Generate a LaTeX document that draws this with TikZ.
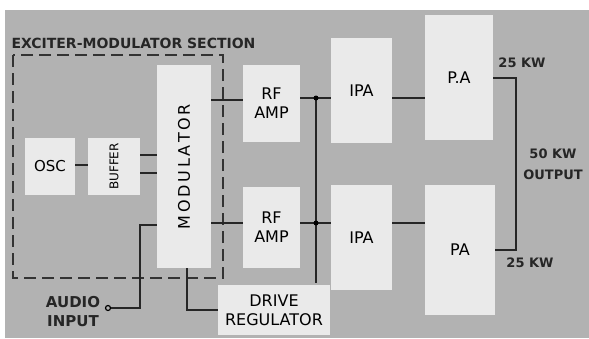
\documentclass[tikz,border=0pt]{standalone}
\usepackage{fontspec}
\setmainfont{DejaVu Sans}
\usetikzlibrary{positioning, calc}

\definecolor{bggray}{HTML}{B2B2B2}
\definecolor{boxgray}{HTML}{EAEAEA}

\begin{document}
\begin{tikzpicture}[
    x=1pt, y=-1pt,
    blk/.style={rectangle, fill=boxgray, inner sep=0pt, align=center, font=\fontsize{16}{19}\selectfont},
    wire/.style={line width=1.8pt, black!85},
    lbl/.style={font=\bfseries\fontsize{13}{21}\selectfont, align=center, black!85}
]
    \useasboundingbox (0,0) rectangle (589,338);
    \fill[white] (0,0) rectangle (589,338);
    \fill[bggray] (5,10) rectangle (589,338);

    % exciter-modulator section
    \node[lbl, anchor=west, font=\bfseries\fontsize{14}{16}\selectfont] (sect) at (8,43) {EXCITER-MODULATOR SECTION};
    \draw[line width=1.8pt, black!80, dash pattern=on 12pt off 6pt] (13,55) rectangle (223,278);

    \node[blk, minimum width=50, minimum height=57, font=\fontsize{15}{19}\selectfont] (osc) at (50,166.5) {OSC};
    \node[blk, minimum width=52, minimum height=57] (buf) at (114,166.5) {\rotatebox{90}{\fontsize{12}{12}\selectfont BUFFER}};
    \node[blk, minimum width=54, minimum height=203] (mod) at (184,166.5) {\rotatebox{90}{\fontsize{16}{18}\selectfont M\,O\,D\,U\,L\,A\,T\,O\,R}};
    \node[blk, minimum width=112, minimum height=50] (drv) at (274,310) {DRIVE\\REGULATOR};

    % RF chain
    \node[blk, minimum width=57, minimum height=77] (rf1) at (271.5,103.5) {RF\\AMP};
    \node[blk, minimum width=57, minimum height=81] (rf2) at (271.5,227.5) {RF\\AMP};
    \node[blk, minimum width=61, minimum height=105] (ipa1) at (361.5,90.5) {IPA};
    \node[blk, minimum width=61, minimum height=105] (ipa2) at (361.5,237.5) {IPA};
    \node[blk, minimum width=68, minimum height=125] (pa1) at (459,77.5) {P.A};
    \node[blk, minimum width=70, minimum height=130] (pa2) at (460,250) {PA};

    % labels
    \node[lbl] (kw1) at (522,63) {25 KW};
    \node[lbl] (kw2) at (530,263) {25 KW};
    \node[lbl] (out) at (553,164) {50 KW\\OUTPUT};
    \node[lbl, font=\bfseries\fontsize{15}{19}\selectfont] (aud) at (73,312) {AUDIO\\INPUT};
    \node[circle, draw, line width=1.2pt, inner sep=0pt, minimum size=5pt] (jack) at (108,308) {};

    % connections
    \draw[wire] (osc.east |- 0,165) -- (buf.west |- 0,165);
    \draw[wire] (buf.east |- 0,155) -- (mod.west |- 0,155);
    \draw[wire] (buf.east |- 0,173) -- (mod.west |- 0,173);
    \draw[wire] (mod.east |- 0,100) -- (rf1.west |- 0,100);
    \draw[wire] (mod.east |- 0,223) -- (rf2.west |- 0,223);
    \draw[wire] (rf1.east |- 0,98) -- (ipa1.west |- 0,98);
    \draw[wire] (rf2.east |- 0,223) -- (ipa2.west |- 0,223);
    \coordinate (bustop) at (316,96);
    \coordinate (busbot) at (316,283);
    \draw[wire] (bustop) -- (busbot);
    \fill (316,98) circle (2.5pt) (316,223) circle (2.5pt);
    \draw[wire] (ipa1.east |- 0,98) -- (pa1.west |- 0,98);
    \draw[wire] (ipa2.east |- 0,223) -- (pa2.west |- 0,223);
    \draw[wire] (pa1.east |- 0,78) -| (516,250) -- (pa2.east |- 0,250);
    \draw[wire] (mod.west |- 0,225) -| (140,308) -- (jack.east);
    \draw[wire] (mod.south -| 187,0) |- (drv.west);
\end{tikzpicture}
\end{document}
